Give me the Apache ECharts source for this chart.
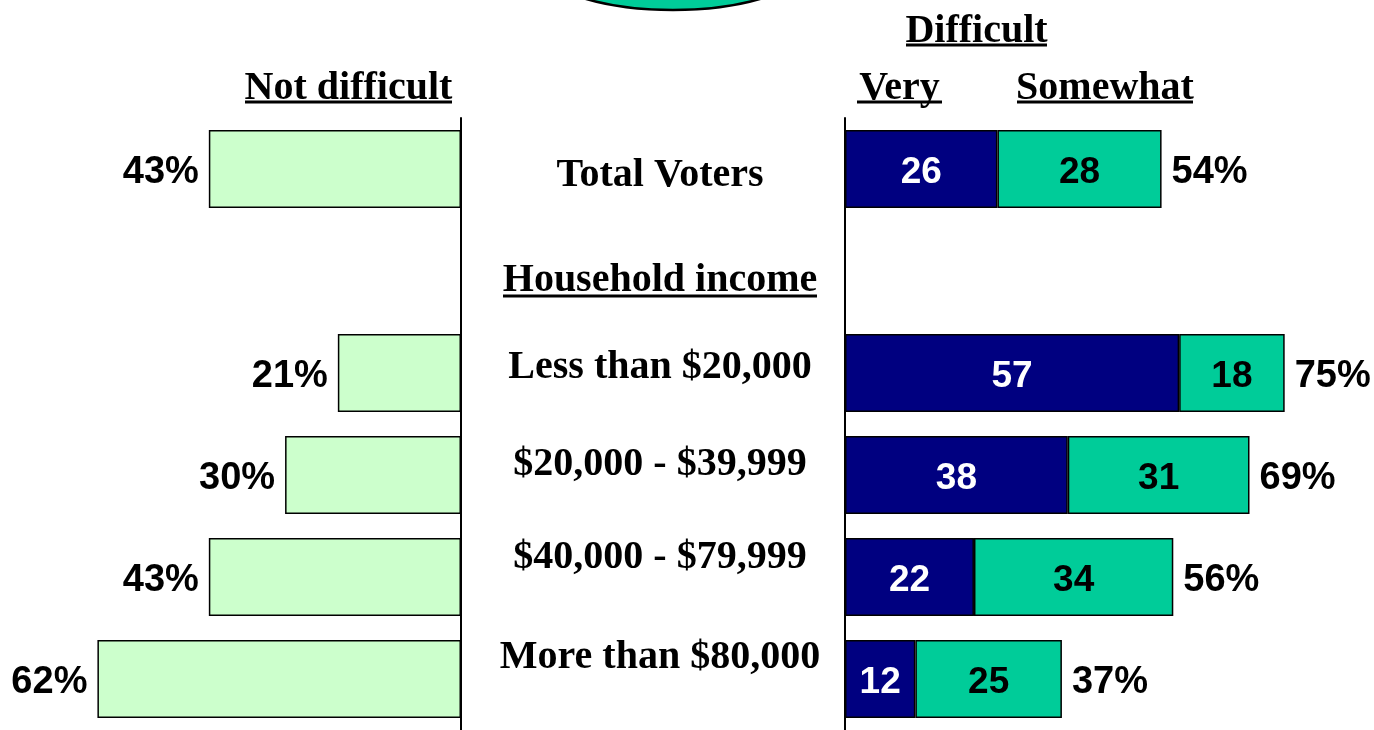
<!DOCTYPE html>
<html lang="en">
  <head>
    <meta charset="UTF-8" />
    <title>Difficult</title>
    <script src="https://cdn.jsdelivr.net/npm/echarts@6/dist/echarts.min.js"></script>
  </head>
  <style>
    html,
    body {
      margin: 0;
      padding: 0;
      background: #fff;
    }
    #echart {
      width: 1374px;
      height: 730px;
    }
  </style>
  <body>
    <div id="echart"></div>
  </body>
  <script>
    const categories = [
      "Total Voters",
      "Household income",
      "Less than $20,000",
      "$20,000 - $39,999",
      "$40,000 - $79,999",
      "More than $80,000",
    ];
    const notDifficult = [43, null, 21, 30, 43, 62];
    const very = [26, null, 57, 38, 22, 12];
    const somewhat = [28, null, 18, 31, 34, 25];
    const totalDifficult = [54, null, 75, 69, 56, 37];

    const serif = "bold 40px 'Times New Roman', 'Liberation Serif', serif";
    const sans = "'Arial', 'Liberation Sans', sans-serif";

    // vertical shift of each centre label (negative = up)
    const labelShift = [7, 10, -5, -10, -19, -21];
    const rich = {};
    labelShift.forEach((s, i) => {
      rich["r" + i] = {
        fontFamily: "'Times New Roman', 'Liberation Serif', serif",
        fontWeight: "bold",
        fontSize: 40,
        color: "#000",
        padding: s < 0 ? [0, 0, -2 * s, 0] : [2 * s, 0, 0, 0],
      };
    });

    const chart = echarts.init(document.getElementById("echart"));

    function header(text, x, y, x1, x2, uy) {
      return [
        {
          type: "text",
          style: {
            text: text,
            x: x,
            y: y,
            font: serif,
            fill: "#000",
            textAlign: "center",
            textVerticalAlign: "middle",
          },
        },
        {
          type: "line",
          shape: { x1: x1, y1: uy, x2: x2, y2: uy },
          style: { stroke: "#000", lineWidth: 3 },
        },
      ];
    }

    const numLabel = {
      show: true,
      fontFamily: sans,
      fontWeight: "bold",
      fontSize: 38,
      offset: [0, 4],
    };

    var option = {
      animation: false,
      grid: [
        { left: 50.5, top: 118, width: 410.5, height: 618 },
        { left: 845, top: 118, width: 469, height: 618 },
      ],
      xAxis: [
        { gridIndex: 0, type: "value", min: 0, max: 70, inverse: true, show: false },
        { gridIndex: 1, type: "value", min: 0, max: 80, show: false },
      ],
      yAxis: [
        {
          gridIndex: 0,
          type: "category",
          data: categories,
          inverse: true,
          position: "right",
          axisLine: { lineStyle: { color: "#000", width: 2 } },
          axisTick: { show: false },
          axisLabel: { show: false },
        },
        {
          gridIndex: 1,
          type: "category",
          data: categories,
          inverse: true,
          position: "left",
          axisLine: { lineStyle: { color: "#000", width: 2 } },
          axisTick: { show: false },
          axisLabel: {
            interval: 0,
            align: "center",
            margin: 185,
            formatter: (v, i) => "{r" + i + "|" + v + "}",
            rich: rich,
          },
        },
      ],
      series: [
        {
          name: "Not difficult",
          type: "bar",
          xAxisIndex: 0,
          yAxisIndex: 0,
          barWidth: 78,
          data: notDifficult,
          itemStyle: { color: "#CCFFCC", borderColor: "#000", borderWidth: 1.5 },
          label: Object.assign({}, numLabel, {
            position: "left",
            distance: 10,
            formatter: "{c}%",
            color: "#000",
          }),
        },
        {
          name: "Total",
          type: "bar",
          xAxisIndex: 1,
          yAxisIndex: 1,
          barWidth: 78,
          barGap: "-100%",
          clip: false,
          data: totalDifficult,
          itemStyle: { color: "rgba(0,0,0,0)" },
          label: Object.assign({}, numLabel, {
            position: "right",
            distance: 10,
            formatter: "{c}%",
            color: "#000",
          }),
        },
        {
          name: "Very",
          type: "bar",
          stack: "difficult",
          xAxisIndex: 1,
          yAxisIndex: 1,
          barWidth: 78,
          clip: false,
          data: very,
          itemStyle: { color: "#000080", borderColor: "#000", borderWidth: 1.5 },
          label: Object.assign({}, numLabel, {
            position: "inside",
            color: "#fff",
            fontSize: 37,
          }),
        },
        {
          name: "Somewhat",
          type: "bar",
          stack: "difficult",
          xAxisIndex: 1,
          yAxisIndex: 1,
          barWidth: 78,
          clip: false,
          data: somewhat,
          itemStyle: { color: "#00CC99", borderColor: "#000", borderWidth: 1.5 },
          label: Object.assign({}, numLabel, {
            position: "inside",
            color: "#000",
            fontSize: 37,
          }),
        },
      ],
      graphic: [
        {
          type: "ellipse",
          shape: { cx: 673, cy: -50, rx: 150, ry: 60 },
          style: { fill: "#00CC99", stroke: "#000", lineWidth: 2.5 },
        },
        ...header("Not difficult", 348.5, 89, 245, 452, 102),
        ...header("Difficult", 976.5, 32, 906, 1047, 45),
        ...header("Very", 899.5, 89, 857, 942, 102),
        ...header("Somewhat", 1105, 89, 1017, 1193, 102),
        {
          type: "line",
          shape: { x1: 503, y1: 296, x2: 817, y2: 296 },
          style: { stroke: "#000", lineWidth: 3 },
        },
      ],
    };

    chart.setOption(option);
  </script>
</html>
